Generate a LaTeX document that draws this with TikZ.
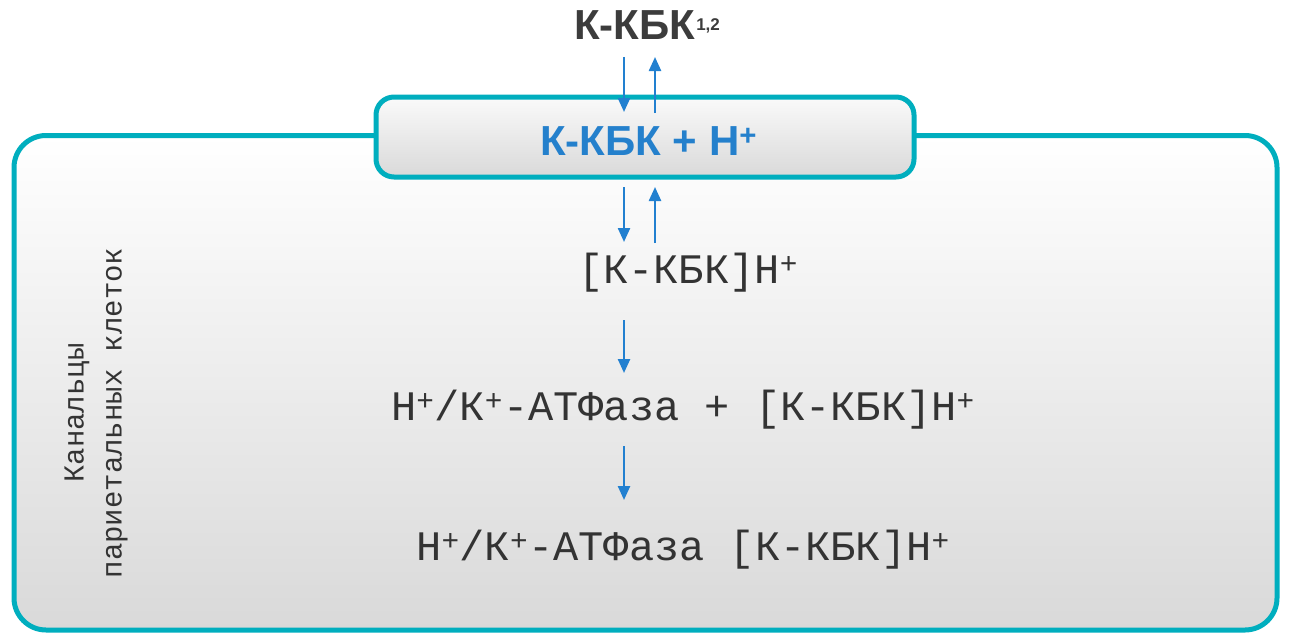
\documentclass[tikz,border=0pt]{standalone}
\usepackage{fontspec}
\setmainfont{Liberation Sans}
\newfontfamily\monof{Liberation Mono}
\usetikzlibrary{arrows.meta}
\definecolor{tealc}{RGB}{0,174,190}
\definecolor{arrblue}{RGB}{34,128,208}
\definecolor{txtblue}{RGB}{36,128,204}
\definecolor{darktxt}{RGB}{60,60,60}
\definecolor{bottomgray}{RGB}{217,217,217}
\tikzset{
  outerbox/.style={draw=tealc, line width=5pt, rounded corners=32pt, top color=white, bottom color=bottomgray},
  innerbox/.style={draw=tealc, line width=5pt, rounded corners=18pt, top color=white!98!black, bottom color=bottomgray},
  arr/.style={draw=arrblue, line width=2.4pt, -{Triangle[width=12pt,length=14pt]}},
  monotxt/.style={font=\monof\fontsize{42}{48}\selectfont, text=black!80, inner sep=0pt},
  boldtxt/.style={font=\bfseries\fontsize{42}{48}\selectfont, inner sep=0pt},
}
\begin{document}
\begin{tikzpicture}[x=1pt,y=-1pt]
\useasboundingbox (0,0) rectangle (1289,634);
% outer container
\path[outerbox] (14,135.5) rectangle (1277,630);
\node[coordinate] (outer) at (645,380) {};
% inner box
\path[innerbox] (376,97) rectangle (914,177);
\node[coordinate] (inner) at (645,137) {};
% title
\node[boldtxt, text=darktxt, anchor=base west] (title) at (574,40)
  {К-КБК\hspace{1pt}{\fontsize{17}{17}\selectfont\raisebox{9pt}{1,2}}};
% inner text
\node[boldtxt, text=txtblue, anchor=base west] (innertxt) at (540,155)
  {К-КБК + Н\textsuperscript{+}};
% mono lines
\node[monotxt, anchor=base] (l2) at (688,283) {[К-КБК]Н\textsuperscript{+}};
\node[monotxt, anchor=base] (l3) at (683,420) {Н\textsuperscript{+}/К\textsuperscript{+}-АТФаза + [К-КБК]Н\textsuperscript{+}};
\node[monotxt, anchor=base] (l4) at (683,560) {Н\textsuperscript{+}/К\textsuperscript{+}-АТФаза [К-КБК]Н\textsuperscript{+}};
% side label
\node[rotate=90, align=center, font=\monof\fontsize{29}{38}\selectfont, text=black!80, inner sep=0pt] (side) at (96,413)
  {Канальцы\\париетальных клеток};
% arrow end points
\coordinate (a1t) at (624,57);  \coordinate (a1b) at (624,112);
\coordinate (b1t) at (655,57);  \coordinate (b1b) at (655,113);
\coordinate (a2t) at (624,187); \coordinate (a2b) at (624,242);
\coordinate (b2t) at (655,187); \coordinate (b2b) at (655,243);
\coordinate (a3t) at (624,320); \coordinate (a3b) at (624,373);
\coordinate (a4t) at (624,446); \coordinate (a4b) at (624,500);
\draw[arr] (a1t) -- (a1b);
\draw[arr] (b1b) -- (b1t);
\draw[arr] (a2t) -- (a2b);
\draw[arr] (b2b) -- (b2t);
\draw[arr] (a3t) -- (a3b);
\draw[arr] (a4t) -- (a4b);
\end{tikzpicture}
\end{document}
